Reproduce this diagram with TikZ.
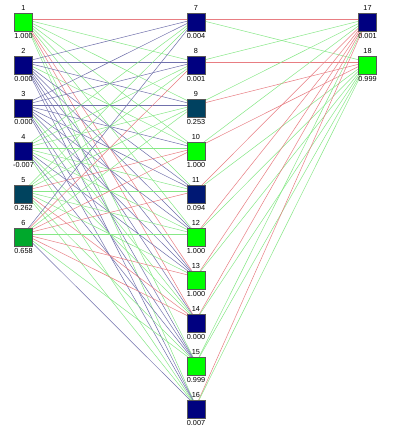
\documentclass[tikz,border=0pt]{standalone}
\usepackage{fontspec}
\setmainfont{Liberation Sans}
\usetikzlibrary{backgrounds}
\definecolor{nodenavy}{RGB}{0,0,128}
\definecolor{nodegreen}{RGB}{0,255,0}
\definecolor{edgegreen}{RGB}{135,232,135}
\definecolor{edgered}{RGB}{232,125,130}
\definecolor{edgeblue}{RGB}{112,112,172}
\begin{document}
\begin{tikzpicture}[x=1pt,y=-1pt,
  unit/.style={draw=black!65, line width=0.6pt, minimum size=18pt, inner sep=0pt},
  every label/.style={font=\fontsize{7.3}{8}\selectfont, inner sep=1.5pt, text=black},
  label distance=0.3pt,
  eG/.style={draw=edgegreen, line width=0.5pt},
  eR/.style={draw=edgered, line width=0.5pt},
  eB/.style={draw=edgeblue, line width=0.5pt}]
\useasboundingbox (0,0) rectangle (400,432);
% input layer
\node[unit, fill=nodegreen!100!nodenavy, label=above:1, label=below:{1.000}] (n1) at (23.5,22) {};
\node[unit, fill=nodegreen!0!nodenavy, label=above:2, label=below:{0.000}] (n2) at (23.5,65) {};
\node[unit, fill=nodegreen!0!nodenavy, label=above:3, label=below:{0.000}] (n3) at (23.5,108) {};
\node[unit, fill=nodegreen!0!nodenavy, label=above:4, label=below:{-0.007}] (n4) at (23.5,151) {};
\node[unit, fill=nodegreen!26.2!nodenavy, label=above:5, label=below:{0.262}] (n5) at (23.5,194) {};
\node[unit, fill=nodegreen!65.8!nodenavy, label=above:6, label=below:{0.658}] (n6) at (23.5,237) {};
% hidden layer
\node[unit, fill=nodegreen!0.4!nodenavy, label=above:7, label=below:{0.004}] (n7) at (196,22) {};
\node[unit, fill=nodegreen!0.1!nodenavy, label=above:8, label=below:{0.001}] (n8) at (196,65) {};
\node[unit, fill=nodegreen!25.3!nodenavy, label=above:9, label=below:{0.253}] (n9) at (196,108) {};
\node[unit, fill=nodegreen!100!nodenavy, label=above:10, label=below:{1.000}] (n10) at (196,151) {};
\node[unit, fill=nodegreen!9.4!nodenavy, label=above:11, label=below:{0.094}] (n11) at (196,194) {};
\node[unit, fill=nodegreen!100!nodenavy, label=above:12, label=below:{1.000}] (n12) at (196,237) {};
\node[unit, fill=nodegreen!100!nodenavy, label=above:13, label=below:{1.000}] (n13) at (196,280) {};
\node[unit, fill=nodegreen!0!nodenavy, label=above:14, label=below:{0.000}] (n14) at (196,323) {};
\node[unit, fill=nodegreen!99.9!nodenavy, label=above:15, label=below:{0.999}] (n15) at (196,366) {};
\node[unit, fill=nodegreen!0.7!nodenavy, label=above:16, label=below:{0.007}] (n16) at (196,409) {};
% output layer
\node[unit, fill=nodegreen!0.1!nodenavy, label=above:17, label=below:{0.001}] (n17) at (367.5,22) {};
\node[unit, fill=nodegreen!99.9!nodenavy, label=above:18, label=below:{0.999}] (n18) at (367.5,65) {};
\begin{pgfonlayer}{background}
\fill[white] (0,0) rectangle (400,432);
\foreach \c [count=\k from 7] in {R,G,G,G,G,G,R,R,G,G}
  \draw[e\c] ([yshift=3pt]n1.center) -- ([yshift=3pt]n\k.center);
\foreach \c [count=\k from 7] in {B,B,B,G,B,B,B,B,B,B}
  \draw[e\c] ([yshift=3pt]n2.center) -- ([yshift=3pt]n\k.center);
\foreach \c [count=\k from 7] in {B,B,B,B,B,B,B,G,B,B}
  \draw[e\c] ([yshift=3pt]n3.center) -- ([yshift=3pt]n\k.center);
\foreach \c [count=\k from 7] in {G,G,G,G,G,G,B,G,B,G}
  \draw[e\c] ([yshift=3pt]n4.center) -- ([yshift=3pt]n\k.center);
\foreach \c [count=\k from 7] in {G,G,G,R,G,G,G,R,G,G}
  \draw[e\c] ([yshift=3pt]n5.center) -- ([yshift=3pt]n\k.center);
\foreach \c [count=\k from 7] in {B,R,G,R,R,G,R,R,G,B}
  \draw[e\c] ([yshift=3pt]n6.center) -- ([yshift=3pt]n\k.center);
\foreach \j/\a/\b in {7/R/G,8/G/R,9/G/R,10/G/R,11/R/G,12/R/G,13/R/G,14/R/G,15/G/G,16/R/G}{
  \draw[e\a] ([yshift=3pt]n\j.center) -- ([yshift=3pt]n17.center);
  \draw[e\b] ([yshift=3pt]n\j.center) -- ([yshift=3pt]n18.center);
}
\end{pgfonlayer}
\end{tikzpicture}
\end{document}
